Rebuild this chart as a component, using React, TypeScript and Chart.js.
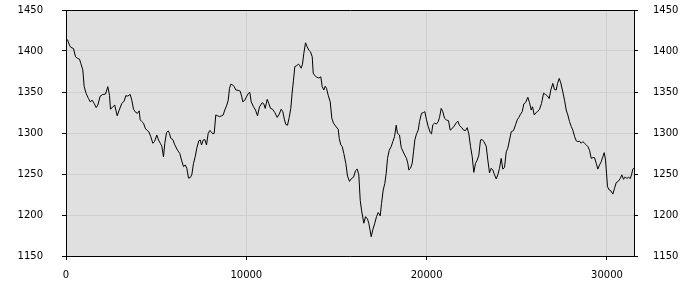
import React, { useEffect, useRef } from "react";
import { Chart, registerables } from "chart.js";

Chart.register(...registerables);

const xValues: number[] = [
  83, 194, 266, 416, 527, 638, 749, 821, 932, 1009, 1120, 1248, 1342, 1453, 1564, 1675, 1764, 1897, 2041, 2191,
  2318, 2413, 2468, 2596, 2706, 2762, 2840, 2950, 3095, 3228, 3317, 3427, 3561, 3649, 3744, 3871, 3965, 4060, 4115, 4204,
  4298, 4392, 4481, 4592, 4703, 4814, 4908, 5036, 5130, 5241, 5313, 5407, 5480, 5574, 5668, 5740, 5812, 5923, 6034, 6184,
  6311, 6406, 6517, 6611, 6700, 6794, 6888, 6977, 7071, 7166, 7254, 7365, 7443, 7515, 7609, 7698, 7792, 7886, 7975, 8053,
  8141, 8219, 8308, 8402, 8513, 8641, 8718, 8807, 8918, 8996, 9068, 9140, 9251, 9328, 9417, 9550, 9661, 9750, 9805, 9916,
  10027, 10121, 10194, 10271, 10399, 10510, 10621, 10732, 10881, 10970, 11048, 11158, 11247, 11342, 11453, 11580, 11713, 11824, 11935, 12024,
  12118, 12190, 12284, 12379, 12467, 12545, 12617, 12689, 12784, 12895, 12967, 13044, 13116, 13188, 13283, 13377, 13466, 13560, 13654, 13710,
  13799, 13909, 14020, 14131, 14209, 14298, 14375, 14447, 14542, 14653, 14741, 14836, 14947, 15096, 15152, 15240, 15318, 15407, 15518, 15612,
  15723, 15834, 15945, 16056, 16150, 16239, 16316, 16389, 16516, 16611, 16721, 16793, 16926, 17015, 17126, 17220, 17315, 17426, 17498, 17592,
  17681, 17758, 17830, 17925, 18036, 18124, 18219, 18313, 18385, 18496, 18590, 18701, 18790, 18884, 18956, 19012, 19106, 19200, 19272, 19345,
  19439, 19533, 19605, 19716, 19827, 19899, 19993, 20087, 20198, 20271, 20343, 20437, 20548, 20642, 20715, 20809, 20897, 20992, 21086, 21213,
  21308, 21419, 21530, 21641, 21730, 21824, 21951, 22046, 22156, 22251, 22339, 22434, 22528, 22617, 22711, 22805, 22894, 22988, 23083, 23171,
  23304, 23393, 23487, 23582, 23670, 23765, 23859, 23948, 24042, 24136, 24225, 24320, 24414, 24503, 24597, 24691, 24819, 24930, 25024, 25113,
  25207, 25301, 25390, 25484, 25612, 25706, 25801, 25873, 25967, 26078, 26150, 26261, 26372, 26483, 26594, 26705, 26798, 26887, 26998, 27092,
  27187, 27259, 27353, 27442, 27553, 27647, 27741, 27830, 27924, 28019, 28107, 28201, 28296, 28385, 28479, 28573, 28662, 28756, 28851, 28939,
  29034, 29128, 29217, 29311, 29405, 29494, 29588, 29682, 29771, 29848, 29921, 29976, 30031, 30126, 30215, 30326, 30420, 30514, 30625, 30736,
  30825, 30919, 31014, 31102, 31196, 31291, 31363, 31435, 31490,
];

const yValues: number[] = [
  1414, 1407, 1404.5, 1403, 1393, 1391, 1390, 1385, 1377, 1356.5, 1348, 1342, 1338, 1340, 1336, 1331, 1334, 1345, 1347, 1347.5,
  1356.5, 1346, 1329, 1332, 1334, 1328, 1321, 1328, 1336, 1339, 1345.5, 1345, 1347, 1340, 1329, 1325, 1324, 1327, 1316, 1314,
  1312, 1306, 1303.5, 1301.5, 1295.5, 1287.5, 1289.5, 1297.5, 1291.5, 1287, 1284, 1271, 1287.5, 1300.5, 1302.5, 1299.5, 1293.5, 1292, 1285.5, 1279,
  1275, 1267, 1259, 1261, 1257, 1245, 1245.5, 1249, 1263, 1271, 1281.5, 1290.5, 1291.5, 1285.5, 1291.5, 1292, 1285.5, 1299.5, 1303, 1301.5,
  1299, 1299.5, 1322, 1321, 1320, 1321, 1322, 1328, 1334, 1340, 1354.5, 1359.5, 1358.5, 1356.5, 1352.5, 1352, 1351, 1344, 1338, 1340,
  1345, 1348.5, 1349.5, 1338, 1332, 1328, 1321, 1332, 1337, 1335.5, 1330, 1341, 1336, 1330, 1329, 1325, 1319, 1323, 1329, 1326,
  1316, 1310.5, 1309.5, 1319, 1330, 1350, 1364.5, 1381, 1382, 1384, 1382, 1379, 1384, 1397, 1410, 1405, 1401, 1399, 1393, 1373,
  1370, 1368, 1367, 1368.5, 1356.5, 1352.5, 1357, 1354.5, 1346, 1338, 1318, 1312, 1308.5, 1304.5, 1293.5, 1285.5, 1283.5, 1275, 1263, 1247.5,
  1241, 1244.5, 1246, 1254, 1256, 1249, 1218, 1206, 1190, 1198, 1195, 1190, 1173.5, 1182, 1190, 1198, 1203, 1199, 1214, 1230.5,
  1238.5, 1251, 1269, 1279, 1283.5, 1289.5, 1295.5, 1309.5, 1299.5, 1297.5, 1282.5, 1277, 1273, 1269, 1263, 1255, 1257, 1263, 1277, 1291.5,
  1299, 1303.5, 1314, 1324, 1325, 1326, 1316, 1308, 1300.5, 1299, 1310, 1312, 1311, 1314, 1319, 1330, 1326, 1318, 1316, 1315,
  1303.5, 1305.5, 1308.5, 1312.5, 1314.5, 1309, 1306.5, 1303.5, 1303, 1306.5, 1299, 1283.5, 1271, 1252, 1263, 1267, 1273, 1291.5, 1292, 1289.5,
  1284, 1267, 1251.5, 1257, 1255, 1249, 1244, 1249, 1257, 1269, 1256, 1258, 1277, 1281.5, 1291.5, 1301.5, 1303, 1310, 1316, 1319,
  1323, 1326, 1335.5, 1337, 1343.5, 1337, 1328, 1332, 1322, 1325, 1326, 1329, 1336, 1348.5, 1347, 1345, 1342, 1352.5, 1360.5, 1353,
  1352.5, 1360.5, 1366.5, 1361, 1350, 1340, 1328, 1322, 1314, 1308, 1303.5, 1296, 1290.5, 1289.5, 1290, 1287.5, 1289.5, 1287.5, 1285.5, 1283.5,
  1279, 1269, 1270, 1270, 1263, 1256, 1261, 1265, 1271, 1276, 1267, 1251, 1234.5, 1230.5, 1229.5, 1225.5, 1232.5, 1239.5, 1241, 1244.5,
  1249, 1243.5, 1246.5, 1244.5, 1246, 1244.5, 1249, 1256, 1257,
];

const xTickValues: number[] = [0, 10000, 20000, 30000];
const xMin = 0;
const xMax = 31500;
const yMin = 1150;
const yMax = 1450;
const yStep = 50;

const plotBackground = {
  id: "plotBackground",
  beforeDraw(chart: any) {
    const { ctx, chartArea } = chart;
    ctx.save();
    ctx.fillStyle = "#e0e0e0";
    ctx.fillRect(chartArea.left, chartArea.top, chartArea.right - chartArea.left, chartArea.bottom - chartArea.top);
    ctx.restore();
  },
  afterDraw(chart: any) {
    const { ctx, chartArea } = chart;
    ctx.save();
    ctx.strokeStyle = "#000";
    ctx.lineWidth = 1;
    ctx.beginPath();
    ctx.moveTo(Math.round(chartArea.left) + 0.5, Math.round(chartArea.top) + 0.5);
    ctx.lineTo(Math.round(chartArea.right) + 0.5, Math.round(chartArea.top) + 0.5);
    ctx.stroke();
    ctx.restore();
  },
};

const plain = (v: any) => String(v);

const fixYAxis = (scale: any) => {
  scale.width = 66;
  scale.paddingTop = 0;
  scale.paddingBottom = 0;
};

export default function App() {
  const canvasRef = useRef<HTMLCanvasElement | null>(null);

  useEffect(() => {
    if (!canvasRef.current) return;
    Chart.defaults.font.family = "'DejaVu Sans', sans-serif";
    const points = xValues.map((x, i) => ({ x, y: yValues[i] }));
    const chart = new Chart(canvasRef.current, {
      type: "line",
      data: {
        datasets: [
          {
            data: points,
            borderColor: "#000",
            borderWidth: 1,
            pointRadius: 0,
            tension: 0,
            fill: false,
            yAxisID: "y",
          },
        ],
      },
      plugins: [plotBackground],
      options: {
        animation: false,
        responsive: false,
        events: [],
        layout: { padding: { top: 10, left: 0, right: 0, bottom: 0 } },
        plugins: { legend: { display: false }, tooltip: { enabled: false } },
        scales: {
          x: {
            type: "linear",
            min: xMin,
            max: xMax,
            afterBuildTicks: (scale: any) => {
              scale.ticks = xTickValues.map((v) => ({ value: v }));
            },
            afterFit: (scale: any) => {
              scale.height = 44;
              scale.paddingLeft = 0;
              scale.paddingRight = 0;
            },
            ticks: {
              color: "#000",
              font: { size: 10 },
              padding: 9,
              maxRotation: 0,
              autoSkip: false,
              callback: plain,
            },
            grid: { color: "#cfcfcf", tickColor: "#000", tickLength: 4 },
            border: { color: "#000", width: 1 },
          },
          y: {
            type: "linear",
            position: "left",
            min: yMin,
            max: yMax,
            afterFit: fixYAxis,
            ticks: { stepSize: yStep, color: "#000", font: { size: 10 }, padding: 19, callback: plain },
            grid: { color: "#cfcfcf", tickColor: "#000", tickLength: 4 },
            border: { color: "#000", width: 1 },
          },
          y2: {
            type: "linear",
            position: "right",
            min: yMin,
            max: yMax,
            afterFit: fixYAxis,
            ticks: { stepSize: yStep, color: "#000", font: { size: 10 }, padding: 15, callback: plain },
            grid: { drawOnChartArea: false, tickColor: "#000", tickLength: 4 },
            border: { color: "#000", width: 1 },
          },
        },
      },
    });
    return () => chart.destroy();
  }, []);

  return (
    <div style={{ position: "absolute", left: 0, top: 0, width: 700, height: 300, background: "#fff" }}>
      <canvas ref={canvasRef} width={700} height={300} />
    </div>
  );
}
